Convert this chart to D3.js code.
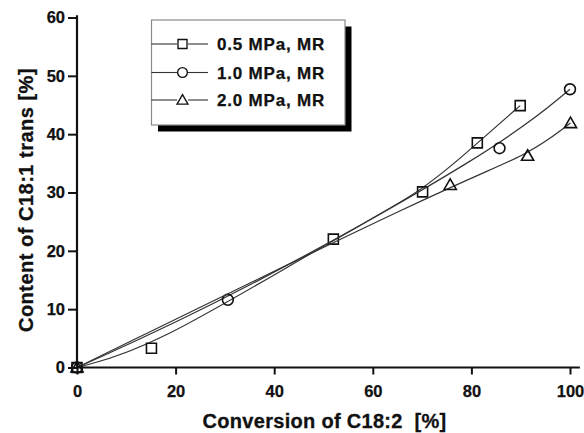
<!DOCTYPE html>
<html>
<head>
<meta charset="utf-8">
<script src="https://cdn.jsdelivr.net/npm/d3@7"></script>
<style>
  html, body { margin: 0; padding: 0; background: #fff; }
  svg { display: block; font-family: "Liberation Sans", Arial, sans-serif; }
</style>
</head>
<body>
<svg id="chart" width="584" height="433"></svg>
<script>
// Conversion of C18:2 (%) and resulting C18:1 trans content (%) per pressure
const seriesNames = ["0.5 MPa, MR", "1.0 MPa, MR", "2.0 MPa, MR"];
const seriesSymbols = ["square", "circle", "triangle"];
const conv05 = [0, 15.1, 52.0, 70.1, 81.2, 89.9];
const trans05 = [0, 3.3, 22.0, 30.1, 38.5, 44.9];
const conv10 = [0, 30.6, 85.7, 100.0];
const trans10 = [0, 11.6, 37.6, 47.7];
const conv20 = [0, 75.7, 91.4, 100.1];
const trans20 = [0, 31.3, 36.3, 41.9];
const xMajorTicks = [0, 20, 40, 60, 80, 100];
const xMinorTicks = [10, 30, 50, 70, 90];
const yMajorTicks = [0, 10, 20, 30, 40, 50, 60];
const yMinorTicks = [5, 15, 25, 35, 45, 55];
const xTitle = "Conversion of C18:2\u00a0\u00a0[%]";
const yTitle = "Content of C18:1 trans [%]";

const series = [
  { name: seriesNames[0], sym: seriesSymbols[0], xs: conv05, ys: trans05 },
  { name: seriesNames[1], sym: seriesSymbols[1], xs: conv10, ys: trans10 },
  { name: seriesNames[2], sym: seriesSymbols[2], xs: conv20, ys: trans20 }
];

const svg = d3.select("#chart");
const x = d3.scaleLinear().domain([0, 100]).range([77, 570]);
const y = d3.scaleLinear().domain([0, 60]).range([367.5, 17.5]);

const ink = "#111";
const lineInk = "#333";

const symbolPath = {
  square: d3.symbol().type(d3.symbolSquare).size(100)(),
  circle: d3.symbol().type(d3.symbolCircle).size(92)(),
  triangle: d3.symbol().type(d3.symbolTriangle).size(64)()
};

// Smoothed B-spline connection lines
const line = d3.line()
  .x(d => x(d[0]))
  .y(d => y(d[1]))
  .curve(d3.curveBasis);

const plot = svg.append("g");
series.forEach(s => {
  const pts = s.xs.map((v, i) => [v, s.ys[i]]);
  plot.append("path")
    .attr("d", line(pts))
    .attr("fill", "none")
    .attr("stroke", lineInk)
    .attr("stroke-width", 1.2);
  plot.selectAll(null)
    .data(pts)
    .enter()
    .append("path")
    .attr("d", symbolPath[s.sym])
    .attr("transform", d => `translate(${x(d[0])},${y(d[1]) + (s.sym === "triangle" ? 1 : 0)})`)
    .attr("fill", "none")
    .attr("stroke", ink)
    .attr("stroke-width", 1.6);
});

// Axes
const xAxisG = svg.append("g").attr("transform", `translate(0,${y(0)})`);
xAxisG.call(d3.axisBottom(x).tickValues(xMinorTicks).tickSize(4).tickFormat(""));
xAxisG.call(d3.axisBottom(x).tickValues(xMajorTicks).tickSize(7).tickPadding(11).tickFormat(d3.format("d")));

const yAxisG = svg.append("g").attr("transform", `translate(${x(0)},0)`);
yAxisG.call(d3.axisLeft(y).tickValues(yMinorTicks).tickSize(4).tickFormat(""));
yAxisG.call(d3.axisLeft(y).tickValues(yMajorTicks).tickSize(9).tickPadding(3).tickFormat(d3.format("d")));

svg.selectAll(".domain").remove();
svg.selectAll(".tick line").attr("stroke", ink).attr("stroke-width", 2);
svg.selectAll(".tick text")
  .attr("fill", ink)
  .attr("font-size", 16.5)
  .attr("font-weight", "bold")
  .attr("font-family", "'Liberation Sans', Arial, sans-serif")
  .attr("stroke", ink)
  .attr("stroke-width", 0.25);

// Axis lines
svg.append("line")
  .attr("x1", x(0) - 1).attr("x2", x(102))
  .attr("y1", y(0)).attr("y2", y(0))
  .attr("stroke", ink).attr("stroke-width", 2.2);
svg.append("line")
  .attr("x1", x(0)).attr("x2", x(0))
  .attr("y1", y(0) + 1).attr("y2", y(60.4))
  .attr("stroke", ink).attr("stroke-width", 2.2);

// Axis titles
svg.append("text")
  .attr("x", (x(0) + x(100)) / 2 + 1)
  .attr("y", 428)
  .attr("text-anchor", "middle")
  .attr("font-size", 20)
  .attr("font-weight", "bold")
  .attr("fill", ink)
  .attr("stroke", ink)
  .attr("stroke-width", 0.3)
  .style("letter-spacing", "0.3px")
  .text(xTitle);

svg.append("text")
  .attr("transform", `translate(33,${200}) rotate(-90)`)
  .attr("text-anchor", "middle")
  .attr("font-size", 20)
  .attr("font-weight", "bold")
  .attr("fill", ink)
  .attr("stroke", ink)
  .attr("stroke-width", 0.3)
  .style("letter-spacing", "0.5px")
  .text(yTitle);

// Legend with drop shadow
const lg = { x: 151.5, y: 20, w: 193.5, h: 105, shadow: 6.5 };
svg.append("rect")
  .attr("x", lg.x + lg.shadow).attr("y", lg.y + lg.shadow)
  .attr("width", lg.w).attr("height", lg.h)
  .attr("fill", "#000");
svg.append("rect")
  .attr("x", lg.x).attr("y", lg.y)
  .attr("width", lg.w).attr("height", lg.h)
  .attr("fill", "#fff")
  .attr("stroke", "#8a8a8a")
  .attr("stroke-width", 1.2);

const rowY = [44, 72.5, 100];
series.forEach((s, i) => {
  const g = svg.append("g").attr("transform", `translate(0,${rowY[i]})`);
  g.append("line").attr("x1", lg.x).attr("x2", 177).attr("y1", 0).attr("y2", 0)
    .attr("stroke", lineInk).attr("stroke-width", 1.1);
  g.append("line").attr("x1", 188).attr("x2", 208).attr("y1", 0).attr("y2", 0)
    .attr("stroke", lineInk).attr("stroke-width", 1.1);
  g.append("path")
    .attr("d", symbolPath[s.sym])
    .attr("transform", `translate(182.5,${s.sym === "triangle" ? 1 : 0}) scale(0.9)`)
    .attr("fill", "none").attr("stroke", ink).attr("stroke-width", 1.5);
  g.append("text")
    .attr("x", 217).attr("y", 6)
    .attr("font-size", 17)
    .attr("font-weight", "bold")
    .attr("fill", ink)
    .attr("stroke", ink)
    .attr("stroke-width", 0.25)
    .style("letter-spacing", "0.8px")
    .text(s.name);
});
</script>
</body>
</html>
